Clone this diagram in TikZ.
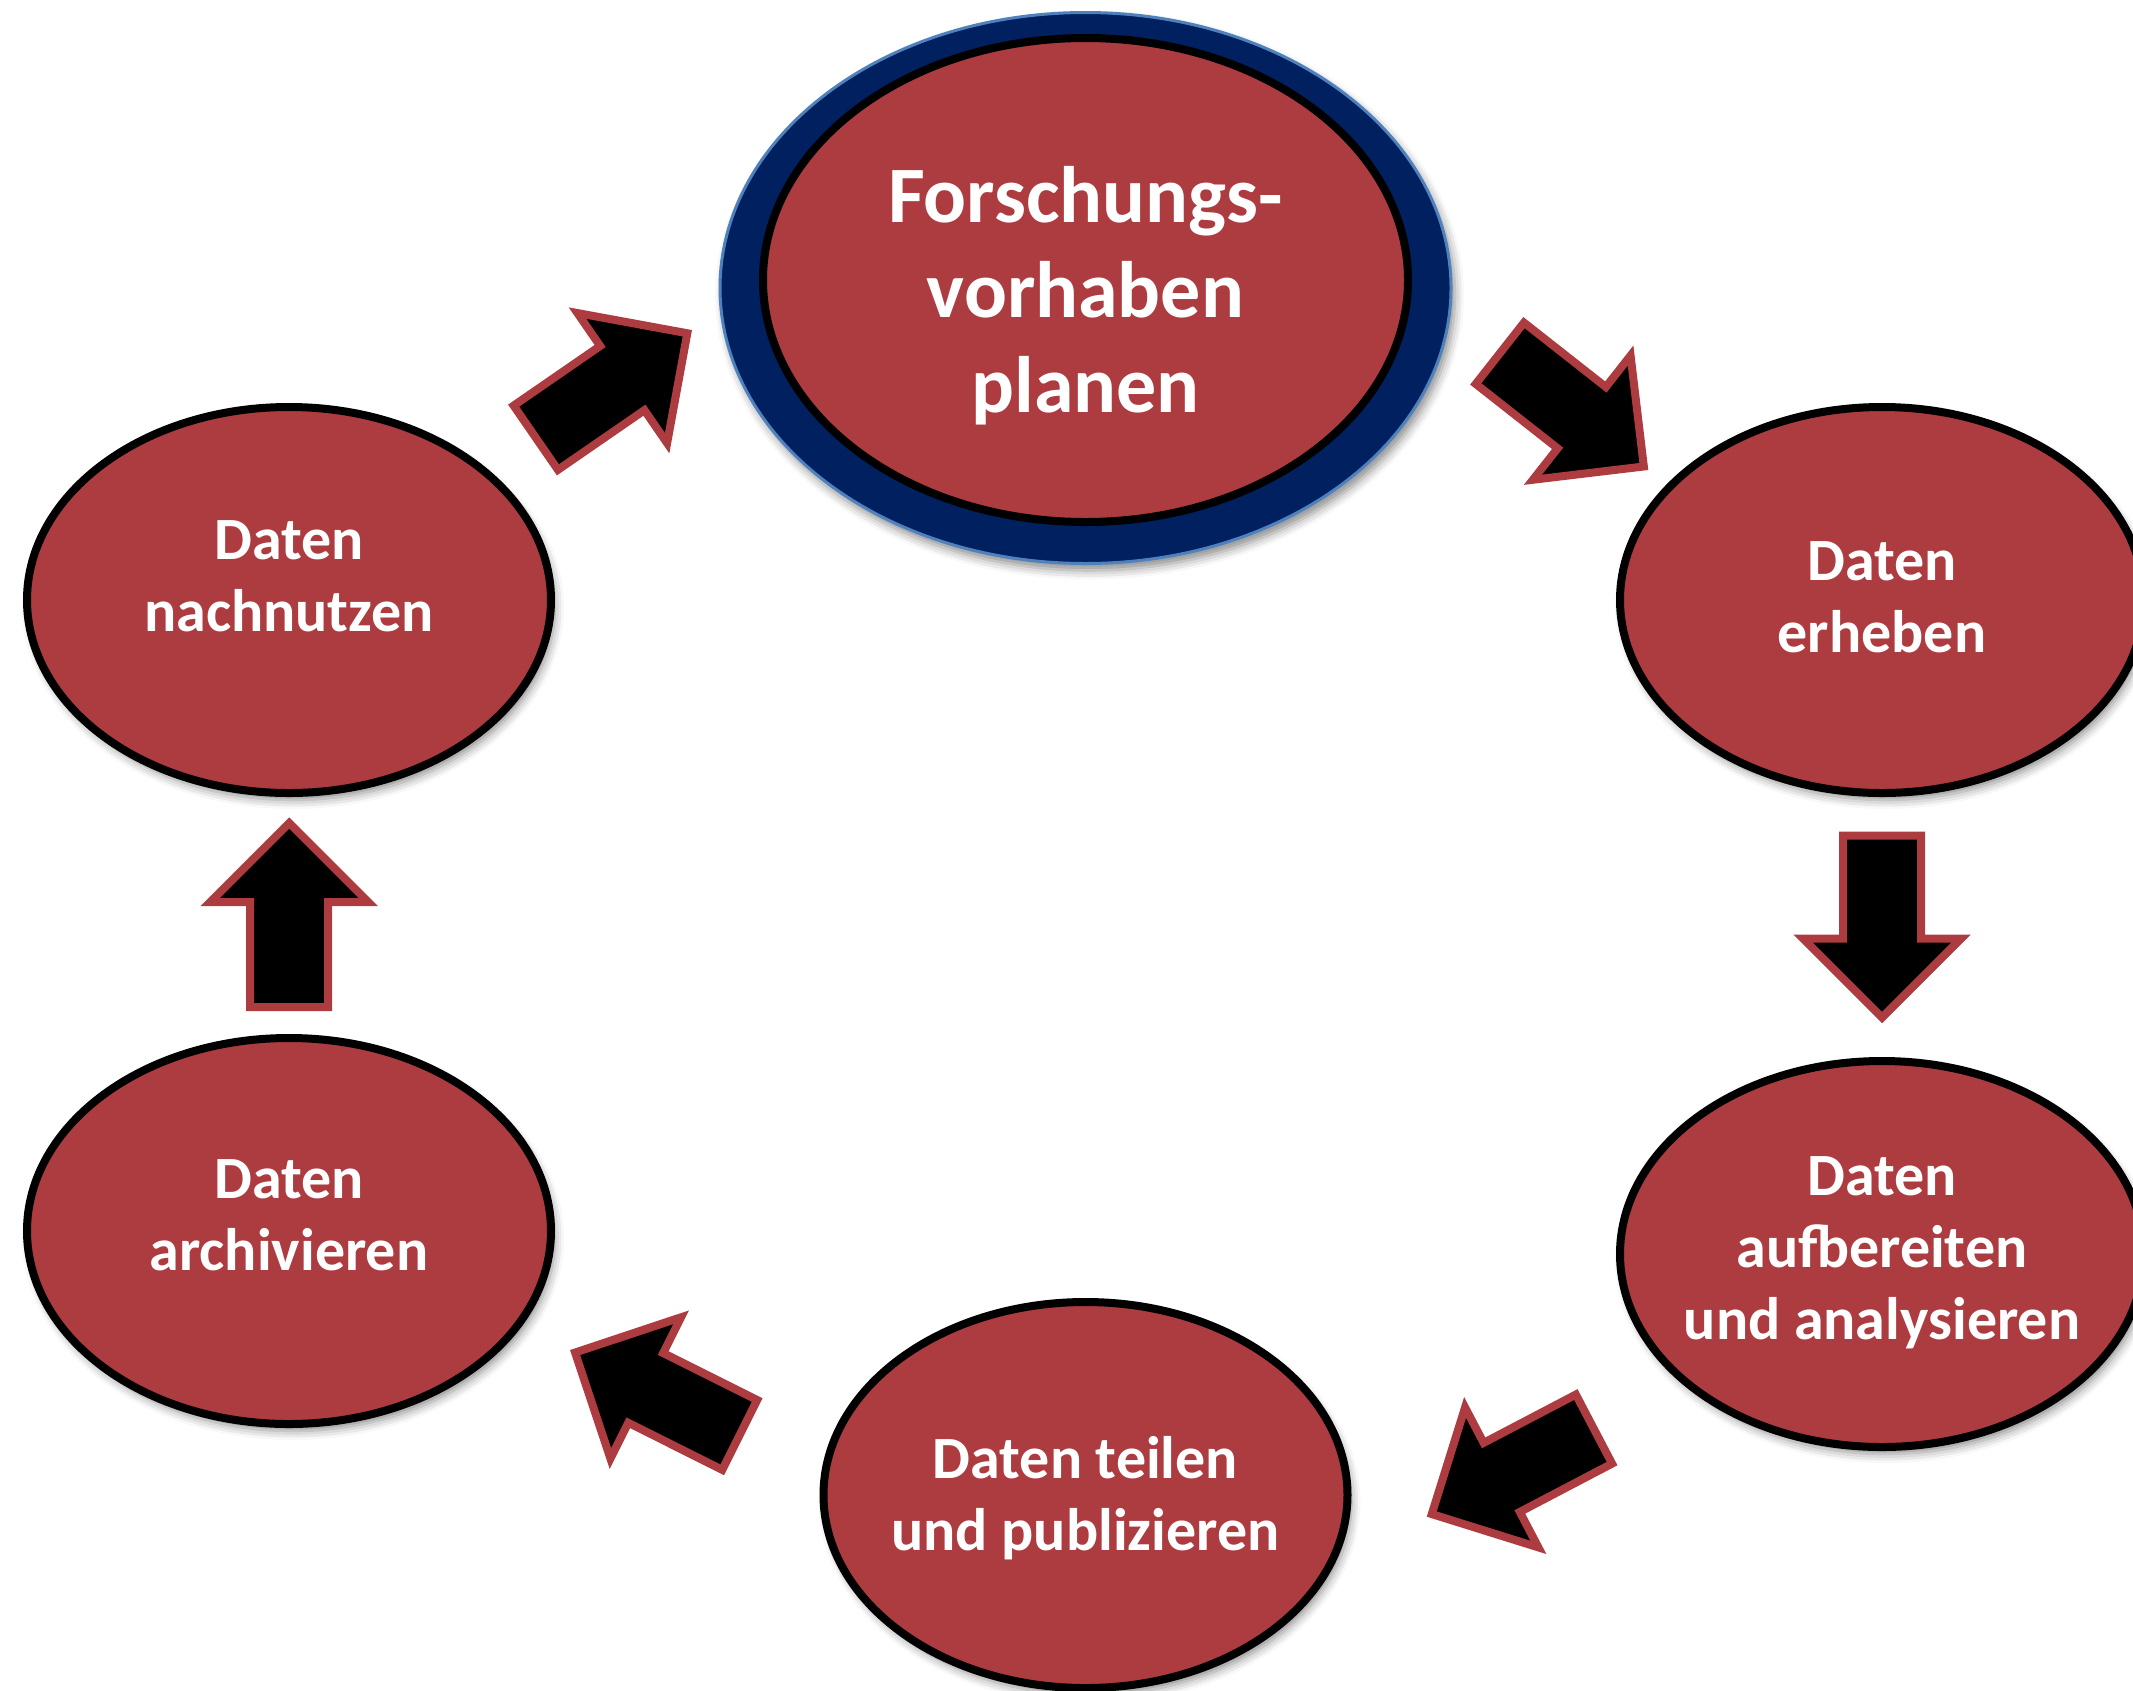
\documentclass[tikz,border=0pt]{standalone}
\usepackage{fontspec}
\setmainfont{Carlito}
\usetikzlibrary{calc,shapes.geometric,shadows.blur}
\definecolor{cred}{RGB}{173,60,65}
\definecolor{cnavy}{RGB}{0,32,96}
\definecolor{cedge}{RGB}{79,129,189}
\tikzset{
  stage/.style={ellipse, fill=cred, draw=black, line width=8pt, inner sep=0pt,
    minimum width=524pt, minimum height=386pt,
    blur shadow={shadow xshift=4pt, shadow yshift=-7pt, shadow blur radius=9pt, shadow opacity=45}},
  ring/.style={ellipse, fill=cnavy, draw=cedge, line width=3pt, inner sep=0pt,
    blur shadow={shadow xshift=4pt, shadow yshift=-7pt, shadow blur radius=9pt, shadow opacity=45}},
  core/.style={ellipse, fill=cred, draw=black, line width=8pt, inner sep=0pt},
  label/.style={text=white, align=center, anchor=base, inner sep=0pt,
    font=\bfseries\fontsize{60}{72}\selectfont},
  biglabel/.style={text=white, align=center, anchor=base, inner sep=0pt,
    font=\bfseries\fontsize{80}{95}\selectfont},
  blockarrow/.style={fill=black, draw=cred, line width=8pt, line join=miter}
}
\newcommand\blockarrow[2]{%
  \path ($(#1)!4pt!(#2)$) coordinate (ba-t)
        ($(#2)!5.7pt!(#1)$) coordinate (ba-p);
  \path ($(ba-p)!79pt!(ba-t)$) coordinate (ba-b);
  \draw[blockarrow] ($(ba-t)!39pt!90:(ba-p)$) -- ($(ba-b)!39pt!90:(ba-p)$)
    -- ($(ba-b)!79pt!90:(ba-p)$) -- (ba-p) -- ($(ba-b)!79pt!-90:(ba-p)$)
    -- ($(ba-b)!39pt!-90:(ba-p)$) -- ($(ba-t)!39pt!-90:(ba-p)$) -- cycle;
}
\begin{document}
\begin{tikzpicture}[x=1pt,y=-1pt]
\useasboundingbox (0,0) rectangle (2133,1690);
\clip (0,0) rectangle (2133,1690);

% top node
\node[ring, minimum width=731pt, minimum height=551pt] (planring) at (1085.5,288) {};
\node[core, minimum width=645pt, minimum height=484pt] (plan) at (1085.5,280) {};
\node[biglabel] (plantext) at (1085.5,412) {Forschungs-\\vorhaben\\planen};

% stage nodes
\node[stage] (nach) at (289,600) {};
\node[stage] (erh) at (1882,600) {};
\node[stage] (auf) at (1882,1254) {};
\node[stage] (teil) at (1085.5,1495) {};
\node[stage] (arch) at (289,1231) {};

% text nodes (anchor = baseline of the last line)
\node[label] (nachtext) at (289,631) {Daten\\nachnutzen};
\node[label] (erhtext) at (1882,652) {Daten\\erheben};
\node[label] (auftext) at (1882,1339) {Daten\\aufbereiten\\und analysieren};
\node[label] (teiltext) at (1085.5,1550) {Daten teilen\\und publizieren};
\node[label] (archtext) at (289,1270) {Daten\\archivieren};

% arrow end points
\coordinate (a1t) at (532.5,440);   \coordinate (a1p) at (692,330);
\coordinate (a2t) at (1496.7,350.8); \coordinate (a2p) at (1648.3,470);
\coordinate (a3t) at (1882,831.7);  \coordinate (a3p) at (1882,1023.3);
\coordinate (a4t) at (1597.5,1427.2); \coordinate (a4p) at (1426.7,1516.7);
\coordinate (a5t) at (743.3,1436.7); \coordinate (a5p) at (570,1350);
\coordinate (a6t) at (289.2,1011);  \coordinate (a6p) at (289.2,817.3);

\blockarrow{a1t}{a1p}
\blockarrow{a2t}{a2p}
\blockarrow{a3t}{a3p}
\blockarrow{a4t}{a4p}
\blockarrow{a5t}{a5p}
\blockarrow{a6t}{a6p}
\end{tikzpicture}
\end{document}
